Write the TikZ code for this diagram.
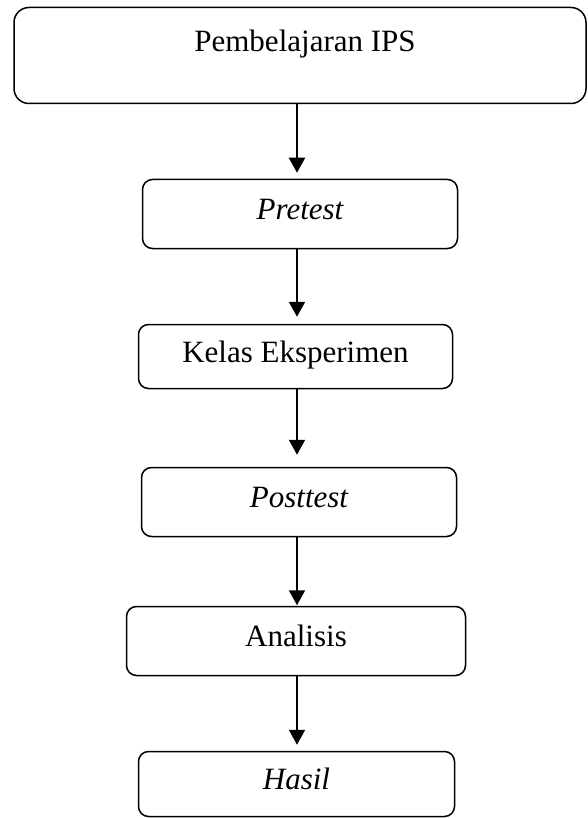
\documentclass[tikz,border=0pt]{standalone}
\usepackage{fontspec}
\setmainfont{Liberation Serif}
\usetikzlibrary{arrows.meta}
\tikzset{
  box/.style={draw=black, line width=1.5pt, rounded corners=10pt, inner sep=0pt,
    font=\fontsize{31pt}{37pt}\selectfont, text height=1.15em, text depth=0pt},
  bigbox/.style={box, rounded corners=15pt},
  arr/.style={line width=2pt, -{Triangle[width=16pt,length=15pt]}},
  lbl/.style={inner sep=0pt, font=\fontsize{31pt}{37pt}\selectfont}
}
\begin{document}
\begin{tikzpicture}[x=1pt,y=-1pt]
\useasboundingbox (0,0) rectangle (588,818);
\coordinate (ax) at (297,0);
\node[bigbox, minimum width=572pt, minimum height=96pt] (b1) at (300,55.5) {};
\node[lbl, anchor=base] (t1) at (305,52) {Pembelajaran IPS};
\node[box, minimum width=315pt, minimum height=69pt] (b2) at (300,214) {\itshape Pretest};
\node[box, minimum width=314pt, minimum height=64pt] (b3) at (295.5,356.5) {Kelas Eksperimen};
\node[box, minimum width=315pt, minimum height=69pt] (b4) at (299,502) {\itshape Posttest};
\node[box, minimum width=339pt, minimum height=69pt] (b5) at (296,641) {Analisis};
\node[box, minimum width=316pt, minimum height=65pt] (b6) at (296.5,784) {\itshape Hasil};
\draw[arr, shorten >=6pt] (b1.south -| ax) -- (b2.north -| ax);
\draw[arr, shorten >=7pt] (b2.south -| ax) -- (b3.north -| ax);
\draw[arr, shorten >=12pt] (b3.south -| ax) -- (b4.north -| ax);
\draw[arr, shorten >=0.5pt] (b4.south -| ax) -- (b5.north -| ax);
\draw[arr, shorten >=6pt] (b5.south -| ax) -- (b6.north -| ax);
\end{tikzpicture}
\end{document}
